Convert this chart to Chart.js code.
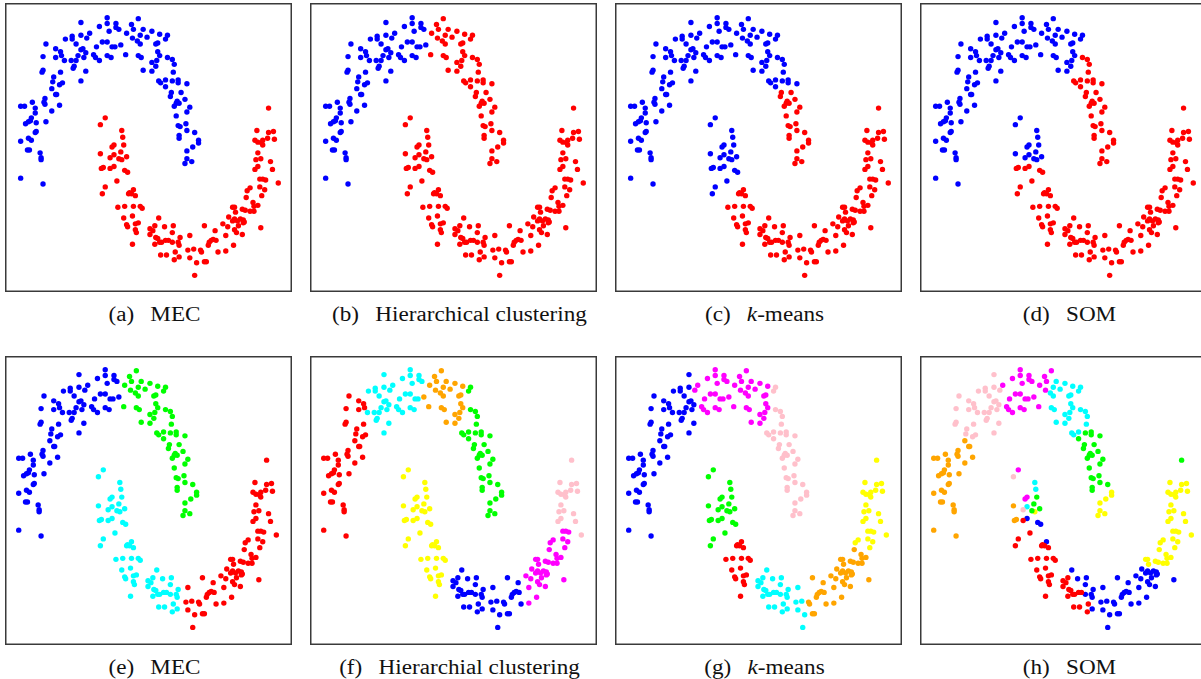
<!DOCTYPE html>
<html>
<head>
<meta charset="utf-8">
<script src="https://cdn.jsdelivr.net/npm/chart.js@4"></script>
<style>
  body { margin: 0; width: 1201px; height: 679px; overflow: hidden; background: #fff; position: relative; }
  canvas { position: absolute; }
  .cap { position: absolute; text-align: center; font-family: "Liberation Serif", serif; font-size: 20.5px; line-height: 20px;
         color: #111; white-space: pre; transform: scaleX(1.13); transform-origin: center; }
</style>
</head>
<body>
<script>
// two moons, point positions, x right / y down
const upperMoon = [
  [101,11],[133,12],[74,16],[101,17],[110,17],[126,18],[93,20],[110,21],[113,23],[103,25],[128,23],[138,23],
  [83,27],[121,27],[65,30],[74,29],[135,29],[58,33],[65,33],[80,32],[127,32],[142,31],[96,36],[101,36],
  [132,35],[135,38],[38,38],[69,38],[106,41],[109,41],[115,39],[90,41],[48,43],[76,43],[74,44],[53,46],
  [79,47],[87,49],[133,50],[136,52],[120,49],[101,50],[105,52],[35,51],[48,52],[54,50],[77,52],[71,50],
  [89,52],[64,55],[69,55],[57,55],[93,55],[67,61],[66,63],[35,65],[34,67],[79,66],[138,65],[53,67],
  [46,72],[45,77],[74,76],[55,78],[52,80],[44,84],[48,90],[49,90],[37,94],[36,98],[24,98],[12,102],
  [16,102],[37,100],[52,101],[27,104],[27,109],[44,107],[23,114],[22,117],[20,118],[17,120],[28,119],[38,118],
  [28,128],[27,129],[20,135],[23,137],[12,138],
  [147,25],[155,28],[163,29],[161,33],[153,37],[151,38],[153,46],[155,50],[163,52],[168,54],[147,57],[152,55],
  [151,61],[170,59],[147,66],[169,67],[154,76],[156,78],[161,75],[168,76],[174,75],[174,78],[183,79],[161,82],
  [167,88],[177,88],[166,92],[173,97],[175,99],[172,99],[170,102],[181,95],[186,103],[183,108],[172,112],[174,122],
  [176,123],[182,120],[183,127],[191,129],[175,132],[175,135],[195,137],[195,140],[189,144],
  [19,147],[21,147],[32,150],[33,155],[33,157],[12,176],[35,182],
  [183,148],[183,156],[188,159],[181,161]
];
const lowerMoon = [
  [99,114],[94,121],[116,127],[117,134],[108,142],[118,142],[106,144],
  [267,104],[255,127],[267,129],[272,128],[253,137],[256,139],[261,137],[266,135],[273,136],[260,140],[261,142],
  [115,149],[94,151],[108,152],[104,155],[113,156],[116,157],[121,154],[95,166],[97,165],[104,166],[108,164],[119,168],
  [122,170],[111,179],[99,185],[96,192],[128,188],[124,191],[123,192],[126,192],[130,194],[112,206],[119,205],[128,205],
  [135,205],[137,207],[127,215],[118,217],[121,224],[122,226],[130,223],[133,222],[130,229],[131,232],[127,244],[145,228],
  [145,234],
  [256,150],[259,156],[254,157],[269,159],[256,164],[253,167],[271,167],[258,177],[261,177],[264,178],[277,181],[248,186],
  [245,189],[258,185],[263,188],[244,196],[260,194],[251,201],[252,205],[256,204],[248,210],[252,210],[243,209],[240,208],
  [232,206],[230,206],[233,211],[226,216],[232,218],[230,220],[235,220],[238,218],[241,219],[242,221],[236,225],[241,222],
  [259,227],[220,223],[225,226],[154,217],[150,225],[160,226],[169,225],[148,230],[168,232],[201,225],[212,230],[223,235],
  [232,229],[234,232],[240,234],[151,237],[153,238],[155,242],[157,242],[161,240],[164,240],[168,242],[176,237],[174,242],
  [175,245],[150,244],[186,235],[206,242],[208,240],[210,239],[213,240],[205,245],[215,252],[231,245],[223,251],[156,255],
  [162,255],[171,252],[175,257],[170,260],[184,250],[190,249],[198,252],[197,250],[186,258],[193,263],[201,262],[203,262],
  [191,276]
];

const captions = [
  '(a)  \u2009MEC', '(b)  \u2009Hierarchical clustering', '(c)  \u2009<i>k</i>-means', '(d)  \u2009SOM',
  '(e)  \u2009MEC', '(f)  \u2009Hierarchial clustering', '(g)  \u2009<i>k</i>-means', '(h)  \u2009SOM'
];

const palette = {
  blue: '#0000ff', red: '#ff0000', green: '#00ff00', cyan: '#00ffff',
  magenta: '#ff00ff', yellow: '#ffff00', orange: '#ffa500', pink: '#ffc0cb'
};

// cluster regions per panel: [moon, colour, xmin, xmax, ymin, ymax], first hit wins
const rulesA = [];
const rulesB = [['u','red',118,999,0,999]];
const rulesC = [['u','red',160,999,85,999], ['l','blue',0,140,0,183], ['l','blue',0,105,0,196]];
const rulesD = [['u','red',158,999,48,999], ['u','red',140,999,72,999], ['l','blue',0,140,0,162]];
const rulesE = [['u','green',118,999,0,999], ['l','cyan',0,180,0,999]];
const rulesF = [
  ['u','red',0,56,0,999], ['u','cyan',0,114,0,999], ['u','orange',0,160,0,70],
  ['l','yellow',0,141,0,999], ['l','blue',0,218,0,999], ['l','pink',0,999,0,172], ['l','pink',274,999,0,999]
];
const rulesG = [
  ['u','blue',0,79,0,999], ['u','blue',0,83,40,999], ['u','magenta',0,158,0,70],
  ['l','green',0,140,0,183], ['l','green',0,105,0,196], ['l','red',0,141,0,999],
  ['l','cyan',0,196,0,999], ['l','yellow',0,999,0,195]
];
const rulesH = [
  ['u','orange',0,70,81,999], ['u','pink',0,82,0,999], ['u','magenta',0,131,0,999], ['u','magenta',0,135,0,16],
  ['u','cyan',0,999,0,74], ['u','cyan',0,163,0,80], ['u','green',0,999,0,136],
  // the mixed tip of the lower moon
  ['l','magenta',97,101,112,116], ['l','magenta',104,110,140,146], ['l','pink',92,96,119,123], ['l','pink',102,106,153,157],
  ['l','cyan',114,119,125,136], ['l','cyan',106,110,150,154], ['l','green',116,120,140,144], ['l','green',113,117,147,151],
  ['l','green',111,115,154,158], ['l','green',119,123,152,156], ['l','yellow',114,118,155,159],
  ['l','orange',92,96,149,153], ['l','orange',93,99,163,168], ['l','blue',106,110,162,166], ['l','blue',117,124,166,172],
  ['l','blue',126,130,186,190],
  ['l','green',260,999,0,110], ['l','red',0,152,0,999], ['l','red',0,166,233,999], ['l','red',0,173,249,999],
  ['l','yellow',200,999,0,213]
];

const panelRules = [rulesA, rulesB, rulesC, rulesD, rulesE, rulesF, rulesG, rulesH];
const panelDefaults = [
  ['blue','red'], ['blue','red'], ['blue','red'], ['blue','red'],
  ['blue','red'], ['green','magenta'], ['pink','orange'], ['yellow','blue']
];

const colLeft = [5, 310, 615, 920];
const rowTop = [3, 356];
const capTop = [304, 657];
const W = 287, H = 289;

function colourOf(rules, moon, p, dflt) {
  for (const r of rules) {
    if (r[0] === moon && p[0] >= r[2] && p[0] < r[3] && p[1] >= r[4] && p[1] < r[5]) return r[1];
  }
  return dflt;
}

const framePlugin = {
  id: 'frame',
  afterDraw(chart) {
    const ctx = chart.ctx;
    ctx.save();
    ctx.strokeStyle = '#3a3a3a';
    ctx.lineWidth = 1.5;
    ctx.strokeRect(0.75, 0.75, chart.width - 1.5, chart.height - 1.5);
    ctx.restore();
  }
};

for (let i = 0; i < 8; i++) {
  const row = Math.floor(i / 4), col = i % 4;
  const canvas = document.createElement('canvas');
  canvas.width = W; canvas.height = H;
  canvas.style.left = colLeft[col] + 'px';
  canvas.style.top = rowTop[row] + 'px';
  document.body.appendChild(canvas);

  // group the points by cluster colour
  const groups = {};
  const add = (moon, p, dflt) => {
    const c = colourOf(panelRules[i], moon, p, dflt);
    (groups[c] = groups[c] || []).push({ x: p[0], y: p[1] });
  };
  upperMoon.forEach(p => add('u', p, panelDefaults[i][0]));
  lowerMoon.forEach(p => add('l', p, panelDefaults[i][1]));

  const dx = row ? 2 : 0, dy = row ? 1 : 0;
  new Chart(canvas, {
    type: 'scatter',
    data: {
      datasets: Object.keys(groups).map(c => ({
        data: groups[c],
        backgroundColor: palette[c],
        borderWidth: 0,
        pointRadius: 2.7
      }))
    },
    options: {
      responsive: false,
      animation: false,
      layout: { padding: 0 },
      plugins: { legend: { display: false }, tooltip: { enabled: false } },
      scales: {
        x: { display: false, min: dx, max: dx + W },
        y: { display: false, reverse: true, min: dy, max: dy + H }
      }
    },
    plugins: [framePlugin]
  });

  const cap = document.createElement('div');
  cap.className = 'cap';
  cap.innerHTML = captions[i];
  cap.style.left = (colLeft[col] + 6) + 'px';
  cap.style.width = W + 'px';
  cap.style.top = capTop[row] + 'px';
  document.body.appendChild(cap);
}
</script>
</body>
</html>
